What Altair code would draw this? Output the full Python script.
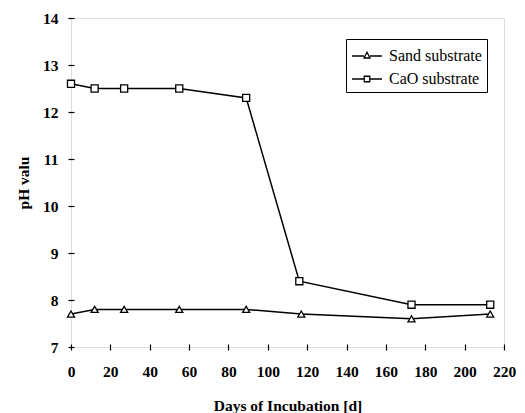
import altair as alt
import pandas as pd

days_sand = [0, 12, 27, 55, 89, 117, 173, 213]
ph_sand = [7.7, 7.8, 7.8, 7.8, 7.8, 7.7, 7.6, 7.7]
days_cao = [0, 12, 27, 55, 89, 116, 173, 213]
ph_cao = [12.6, 12.5, 12.5, 12.5, 12.3, 8.4, 7.9, 7.9]
series = ["Sand substrate", "CaO substrate"]
x_ticks = list(range(0, 221, 20))
y_ticks = list(range(7, 15))

rows = []
for d, p in zip(days_sand, ph_sand):
    rows.append({"day": d, "ph": p, "series": series[0]})
for d, p in zip(days_cao, ph_cao):
    rows.append({"day": d, "ph": p, "series": series[1]})
df = pd.DataFrame(rows)

FONT = "Liberation Serif"

x = alt.X("day:Q", scale=alt.Scale(domain=[0, 220], nice=False),
          axis=alt.Axis(values=x_ticks, title="Days of Incubation [d]", domain=False,
                        grid=False, offset=-3, tickSize=6, tickColor="black", tickWidth=1.2,
                        labelPadding=14, labelFont=FONT, labelFontSize=15.5, labelFontWeight="bold",
                        labelColor="black", titleFont=FONT, titleFontSize=15.5,
                        titleFontWeight="bold", titleColor="black", titlePadding=19,
                        labelFlush=False))
y = alt.Y("ph:Q", scale=alt.Scale(domain=[7, 14], nice=False),
          axis=alt.Axis(values=y_ticks, title="pH valu", domain=False, grid=False,
                        offset=-3, tickSize=6, tickColor="black", tickWidth=1.2,
                        labelPadding=10, labelFont=FONT, labelFontSize=15.5,
                        labelFontWeight="bold", labelColor="black", titleFont=FONT,
                        titleFontSize=15.5, titleFontWeight="bold", titleColor="black",
                        titlePadding=11))

base = alt.Chart(df)

lines = base.mark_line(color="black", strokeWidth=1.5).encode(
    x=x, y=y, detail="series:N")

points = base.mark_point(filled=True, fill="white", stroke="black", strokeWidth=1.3,
                         size=50, opacity=1).encode(
    x=x, y=y,
    shape=alt.Shape("series:N",
                    scale=alt.Scale(domain=series, range=["triangle-up", "square"]),
                    legend=None))

tri_path = "M-1.36,0H-0.27 M0.27,0H1.36 M0,-0.34L0.27,0.18L-0.27,0.18Z"
sq_path = "M-1.36,0H-0.25 M0.25,0H1.36 M-0.25,-0.25H0.25V0.25H-0.25Z"

legend_layer = base.mark_point(opacity=0, size=1).encode(
    x=x, y=y,
    shape=alt.Shape("series:N",
                    scale=alt.Scale(domain=series, range=[tri_path, sq_path]),
                    legend=alt.Legend(title=None, orient="none", legendX=275, legendY=21,
                                      symbolSize=484, symbolOpacity=1, symbolOffset=4,
                                      symbolStrokeColor="black", symbolFillColor="white",
                                      symbolStrokeWidth=1.3, labelFont=FONT,
                                      labelFontSize=16, labelColor="black",
                                      labelOffset=10, rowPadding=3,
                                      strokeColor="black", padding=5,
                                      cornerRadius=0)))

chart = alt.layer(lines, points, legend_layer).resolve_scale(shape="independent").properties(
    width=433, height=329,
    autosize=alt.AutoSizeParams(type="none"),
    padding={"left": 63, "top": 10, "right": 13, "bottom": 66},
).configure_view(stroke="black", strokeWidth=1.5).configure(background="white")

chart.save("out.html", embed_options={"renderer": "svg", "actions": False})
